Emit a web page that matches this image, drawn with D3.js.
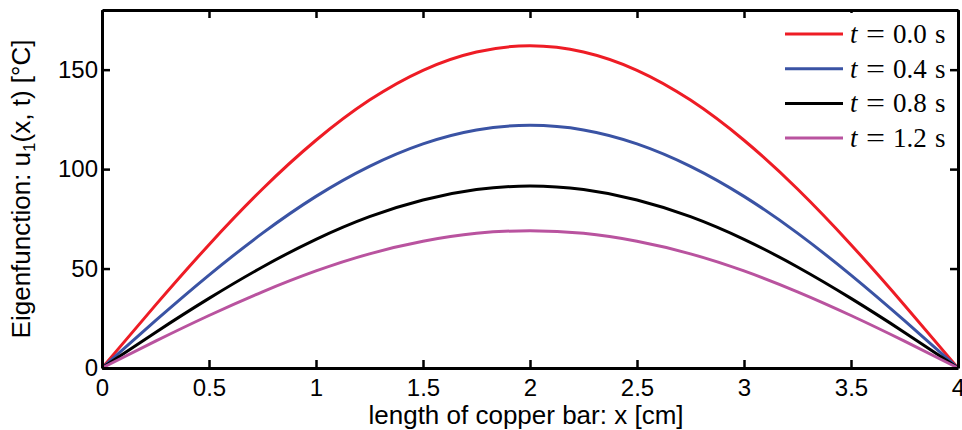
<!DOCTYPE html>
<html>
<head>
<meta charset="utf-8">
<script src="https://cdn.jsdelivr.net/npm/d3@7"></script>
<style>
  body { margin: 0; background: #fff; }
  svg { display: block; }
</style>
</head>
<body>
<script>
// values, x in cm, u in °C
var xs = [0, 0.25, 0.5, 0.75, 1, 1.25, 1.5, 1.75, 2, 2.25, 2.5, 2.75, 3, 3.25, 3.5, 3.75, 4];
var u00 = [0, 31.6, 62, 90, 114.5, 134.7, 149.7, 158.9, 162, 158.9, 149.7, 134.7, 114.5, 90, 62, 31.6, 0];
var u04 = [0, 23.8, 46.7, 67.8, 86.3, 101.4, 112.7, 119.7, 122, 119.7, 112.7, 101.4, 86.3, 67.8, 46.7, 23.8, 0];
var u08 = [0, 17.9, 35, 50.8, 64.7, 76.1, 84.5, 89.7, 91.5, 89.7, 84.5, 76.1, 64.7, 50.8, 35, 17.9, 0];
var u12 = [0, 13.5, 26.4, 38.3, 48.8, 57.4, 63.7, 67.7, 69, 67.7, 63.7, 57.4, 48.8, 38.3, 26.4, 13.5, 0];
var times = ['0.0', '0.4', '0.8', '1.2'];
var colors = ['#ee1c25', '#3a53a4', '#000000', '#b9539f'];
var xTicks = [0, 0.5, 1, 1.5, 2, 2.5, 3, 3.5, 4];
var yTicks = [0, 50, 100, 150];

var series = [u00, u04, u08, u12];

var width = 962, height = 430;
var margin = {top: 10, right: 4, bottom: 62, left: 102};

var svg = d3.select('body').append('svg').attr('width', width).attr('height', height);

var x = d3.scaleLinear().domain([0, 4]).range([margin.left, width - margin.right]);
var y = d3.scaleLinear().domain([0, 180]).range([height - margin.bottom, margin.top]);

var line = d3.line()
  .x(function(d, i) { return x(xs[i]); })
  .y(function(d) { return y(d); })
  .curve(d3.curveNatural);

// curves
svg.append('g').selectAll('path').data(series).enter().append('path')
  .attr('d', line)
  .attr('fill', 'none')
  .attr('stroke', function(d, i) { return colors[i]; })
  .attr('stroke-width', 3);

// axes, ticks inside, mirrored on top and right
var tickFont = '"Liberation Sans", Arial, sans-serif';
var axBottom = svg.append('g').attr('transform', 'translate(0,' + y(0) + ')')
  .call(d3.axisBottom(x).tickValues(xTicks).tickSizeInner(-8).tickSizeOuter(0).tickPadding(11)
    .tickFormat(function(d) { return d3.format('')(d); }));
var axTop = svg.append('g').attr('transform', 'translate(0,' + y(180) + ')')
  .call(d3.axisTop(x).tickValues(xTicks).tickSizeInner(-8).tickSizeOuter(0).tickFormat(''));
var axLeft = svg.append('g').attr('transform', 'translate(' + x(0) + ',0)')
  .call(d3.axisLeft(y).tickValues(yTicks).tickSizeInner(-8).tickSizeOuter(0).tickPadding(4));
var axRight = svg.append('g').attr('transform', 'translate(' + x(4) + ',0)')
  .call(d3.axisRight(y).tickValues(yTicks).tickSizeInner(-8).tickSizeOuter(0).tickFormat(''));

[axBottom, axTop, axLeft, axRight].forEach(function(g) {
  g.selectAll('.domain').attr('stroke', '#000').attr('stroke-width', 3);
  g.selectAll('.tick line').attr('stroke', '#000').attr('stroke-width', 2.5);
  g.selectAll('text').attr('font-family', tickFont).attr('font-size', 24).attr('fill', '#000');
});
axBottom.selectAll('text').attr('dy', '0.71em');

// legend
var serif = '"Liberation Serif", "Times New Roman", serif';
var legend = svg.append('g');
legend.append('rect')
  .attr('x', 772).attr('y', 13).attr('width', 178).attr('height', 144)
  .attr('fill', '#fff');
var rows = legend.selectAll('g.row').data(times).enter().append('g')
  .attr('class', 'row')
  .attr('transform', function(d, i) { return 'translate(0,' + (34 + i * 34.7) + ')'; });
rows.append('line')
  .attr('x1', 785).attr('x2', 843).attr('y1', 0).attr('y2', 0)
  .attr('stroke', function(d, i) { return colors[i]; })
  .attr('stroke-width', 3);
rows.append('text').attr('x', 850).attr('y', 9)
  .attr('font-family', serif).attr('font-size', 27).attr('font-style', 'italic')
  .text('t');
rows.append('text').attr('x', 866).attr('y', 9)
  .attr('font-family', serif).attr('font-size', 27)
  .attr('textLength', 19).attr('lengthAdjust', 'spacingAndGlyphs')
  .text('=');
rows.append('text').attr('x', 893).attr('y', 9)
  .attr('font-family', serif).attr('font-size', 27)
  .text(function(d) { return d; });
rows.append('text').attr('x', 935).attr('y', 9)
  .attr('font-family', serif).attr('font-size', 27)
  .text('s');

// labels
svg.append('text')
  .attr('x', 526).attr('y', 424)
  .attr('text-anchor', 'middle')
  .attr('font-family', tickFont).attr('font-size', 26)
  .text('length of copper bar: x [cm]');

var yl = svg.append('text')
  .attr('transform', 'translate(30,' + y(90) + ') rotate(-90)')
  .attr('text-anchor', 'middle')
  .attr('font-family', tickFont).attr('font-size', 26);
yl.append('tspan').text('Eigenfunction: u');
yl.append('tspan').attr('baseline-shift', '-30%').attr('font-size', 17).text('1');
yl.append('tspan').text('(x, t) [°C]');
</script>
</body>
</html>
